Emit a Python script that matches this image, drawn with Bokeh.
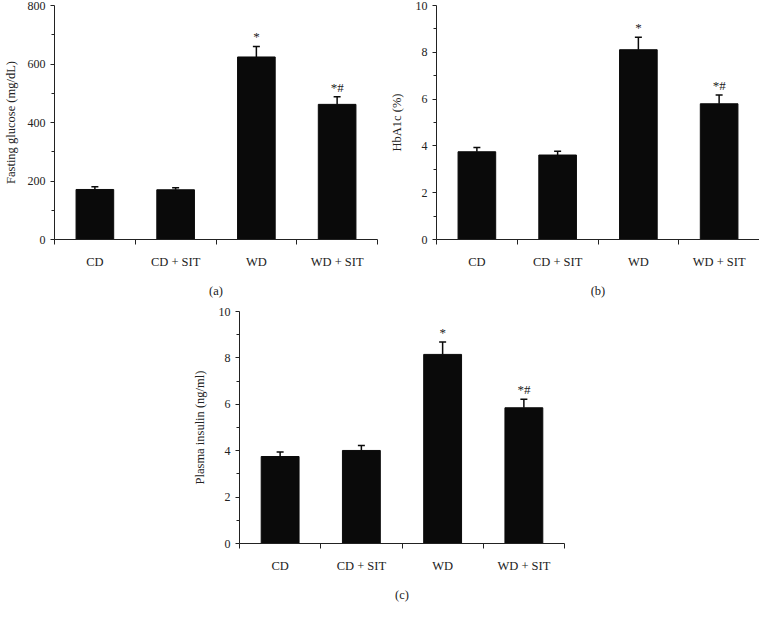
from bokeh.plotting import figure
from bokeh.models import Range1d, FixedTicker, ColumnDataSource, Whisker, TeeHead, Spacer
from bokeh.layouts import row, column
from bokeh.core.properties import value
from bokeh.embed import file_html
from bokeh.resources import INLINE
import numpy as np

groups = ["CD", "CD + SIT", "WD", "WD + SIT"]
sig = ["", "", "*", "*#"]

glucose = [171, 170, 624, 462]
glucose_err = [9, 7, 36, 26]

hba1c = [3.75, 3.61, 8.11, 5.80]
hba1c_err = [0.18, 0.16, 0.53, 0.38]

insulin = [3.75, 4.01, 8.15, 5.85]
insulin_err = [0.19, 0.21, 0.53, 0.37]

FONT = "Liberation Serif"


def panel(vals, errs, ylabel, caption, ymax, ystep, width, height,
          bl, br, bt, bb, label_standoff):
    n = len(groups)
    centers = [float(i) + 0.5 for i in range(n)]
    bounds = [float(i) for i in range(n + 1)]
    tops = [v + e for v, e in zip(vals, errs)]
    src = ColumnDataSource(dict(x=centers, v=vals, top=tops, sig=sig))

    p = figure(width=width, height=height, output_backend="svg", toolbar_location=None,
               x_range=Range1d(0, n), y_range=Range1d(0, ymax),
               min_border_left=bl, min_border_right=br, min_border_top=bt, min_border_bottom=bb)
    p.outline_line_color = None
    p.xgrid.visible = False
    p.ygrid.visible = False
    p.background_fill_color = "white"
    p.border_fill_color = "white"

    p.vbar(x="x", top="v", bottom=0, width=0.466, source=src,
           fill_color="#0a0a0a", line_color="#0a0a0a", line_width=1)
    w = Whisker(source=src, base="x", upper="top", lower="v", dimension="height",
                line_color="#0a0a0a", line_width=1.5,
                upper_head=TeeHead(size=7, line_color="#0a0a0a", line_width=1.5),
                lower_head=None)
    p.add_layout(w)
    p.text(x="x", y="top", text="sig", source=src, text_align="center",
           text_baseline="bottom", y_offset=-2, text_font=value(FONT),
           text_font_size="13px", text_color="#222222")

    xa = p.xaxis[0]
    xa.ticker = FixedTicker(ticks=centers, minor_ticks=bounds)
    xa.major_label_overrides = {c: g for c, g in zip(centers, groups)}
    xa.major_tick_out = 0
    xa.major_tick_in = 0
    xa.minor_tick_out = 5
    xa.minor_tick_in = 0
    xa.major_label_standoff = 10
    xa.axis_label = caption
    xa.axis_label_standoff = 12
    xa.axis_label_text_font_style = "normal"

    ya = p.yaxis[0]
    ticks = [float(t) for t in np.arange(0, ymax + ystep / 2, ystep)]
    minors = [float(t) for t in np.arange(ystep / 2, ymax, ystep)]
    ya.ticker = FixedTicker(ticks=ticks, minor_ticks=minors)
    ya.major_tick_out = 4
    ya.major_tick_in = 0
    ya.minor_tick_out = 3
    ya.minor_tick_in = 0
    ya.major_label_standoff = 5
    ya.axis_label = ylabel
    ya.axis_label_standoff = label_standoff
    ya.axis_label_text_font_style = "normal"

    for ax in (xa, ya):
        ax.axis_line_color = "#222222"
        ax.major_tick_line_color = "#222222"
        ax.minor_tick_line_color = "#222222"
        ax.major_label_text_font = FONT
        ax.major_label_text_font_size = "12.5px"
        ax.major_label_text_color = "#222222"
        ax.axis_label_text_font = FONT
        ax.axis_label_text_font_size = "12.5px"
        ax.axis_label_text_color = "#222222"
    ya.major_label_text_font_size = "12px"
    return p


pa = panel(glucose, glucose_err, "Fasting glucose (mg/dL)", "(a)", 800, 200,
           width=386, height=300, bl=51, br=9, bt=5, bb=55, label_standoff=7)
pb = panel(hba1c, hba1c_err, "HbA1c (%)", "(b)", 10, 2,
           width=373, height=300, bl=49, br=0, bt=5, bb=55, label_standoff=9)
pc = panel(insulin, insulin_err, "Plasma insulin (ng/ml)", "(c)", 10, 2,
           width=390, height=304, bl=55, br=10, bt=11, bb=53, label_standoff=9)

layout = column(row(pa, pb), row(Spacer(width=184, height=304), pc))

open("out.html", "w").write(file_html(layout, INLINE))
